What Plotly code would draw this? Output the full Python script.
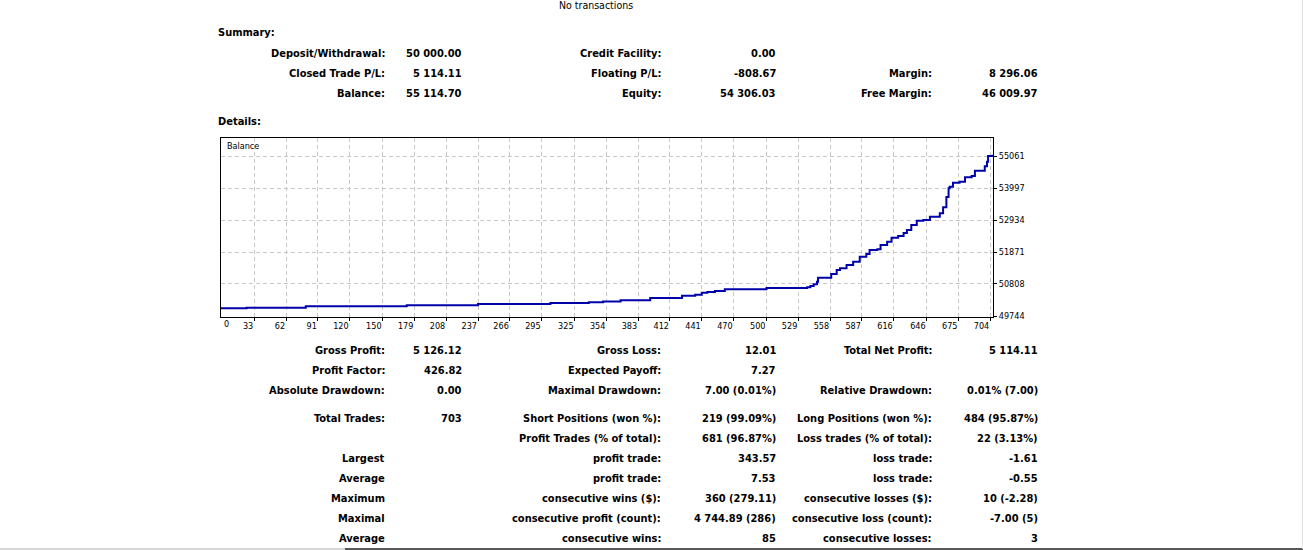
import plotly.graph_objects as go

# ---------------- data ----------------
trade_no = [0, 26, 80, 172, 237, 303, 338, 351, 367, 394, 423, 435, 441, 446, 453, 462,
            500, 537, 540, 543, 546, 547, 559, 564, 567, 573, 579, 585, 591, 594, 601,
            604, 610, 614, 620, 625, 628, 632, 637, 643, 649, 658, 661, 664, 666, 667,
            670, 676, 681, 687, 690, 699, 701, 702, 706]
balance = [50000, 50020, 50065, 50100, 50140, 50175, 50200, 50230, 50265, 50340, 50420,
           50450, 50520, 50540, 50575, 50630, 50675, 50700, 50740, 50800, 50885, 51017,
           51140, 51270, 51330, 51440, 51550, 51715, 51805, 51937, 51960, 52100, 52210,
           52345, 52400, 52500, 52600, 52768, 52910, 52934, 53044, 53155, 53355, 53700,
           53987, 54041, 54174, 54207, 54353, 54396, 54572, 54720, 54871, 55061, 55100]

x_tick_vals = [33, 62, 91, 120, 150, 179, 208, 237, 266, 295, 325, 354, 383, 412, 441,
               470, 500, 529, 558, 587, 616, 646, 675, 704]
y_tick_vals = [49744, 50808, 51871, 52934, 53997, 55061]

header_text = "No transactions"

sum_labels_1 = ["Deposit/Withdrawal:", "Closed Trade P/L:", "Balance:"]
sum_values_1 = ["50 000.00", "5 114.11", "55 114.70"]
sum_labels_2 = ["Credit Facility:", "Floating P/L:", "Equity:"]
sum_values_2 = ["0.00", "-808.67", "54 306.03"]
sum_labels_3 = ["", "Margin:", "Free Margin:"]
sum_values_3 = ["", "8 296.06", "46 009.97"]

st_labels_1 = ["Gross Profit:", "Profit Factor:", "Absolute Drawdown:", "Total Trades:", "",
               "Largest", "Average", "Maximum", "Maximal", "Average"]
st_values_1 = ["5 126.12", "426.82", "0.00", "703", "", "", "", "", "", ""]
st_labels_2 = ["Gross Loss:", "Expected Payoff:", "Maximal Drawdown:", "Short Positions (won %):",
               "Profit Trades (% of total):", "profit trade:", "profit trade:",
               "consecutive wins ($):", "consecutive profit (count):", "consecutive wins:"]
st_values_2 = ["12.01", "7.27", "7.00 (0.01%)", "219 (99.09%)", "681 (96.87%)", "343.57",
               "7.53", "360 (279.11)", "4 744.89 (286)", "85"]
st_labels_3 = ["Total Net Profit:", "", "Relative Drawdown:", "Long Positions (won %):",
               "Loss trades (% of total):", "loss trade:", "loss trade:",
               "consecutive losses ($):", "consecutive loss (count):", "consecutive losses:"]
st_values_3 = ["5 114.11", "", "0.01% (7.00)", "484 (95.87%)", "22 (3.13%)", "-1.61", "-0.55",
               "10 (-2.28)", "-7.00 (5)", "3"]

# ---------------- layout helpers ----------------
FIG_W, FIG_H = 1303, 550
L, R, T, B = 221, 993, 138, 317
W, H = R - L, B - T
FONT = "DejaVu Sans Condensed, DejaVu Sans, sans-serif"


def px(x):
    return (x - L) / W


def py(y):
    return (B - y) / H


annotations = []


def txt(x, y, s, anchor="right", bold=True, size=11):
    if not s:
        return
    annotations.append(dict(
        x=px(x), y=py(y), xref="paper", yref="paper", text=("<b>%s</b>" % s) if bold else s,
        showarrow=False, xanchor=anchor, yanchor="middle", borderpad=0,
        font=dict(family=FONT, size=size, color="#000000")))


txt(596, 5, header_text, anchor="center", bold=False, size=10.5)
txt(217, 33, "Summary:", anchor="left")
txt(217, 121, "Details:", anchor="left")

C1L, C1V, C2L, C2V, C3L, C3V = 386, 463, 662, 777, 933, 1039

sum_rows_y = [53, 73, 93]
for i, yy in enumerate(sum_rows_y):
    txt(C1L, yy, sum_labels_1[i]); txt(C1V, yy, sum_values_1[i])
    txt(C2L, yy, sum_labels_2[i]); txt(C2V, yy, sum_values_2[i])
    txt(C3L, yy, sum_labels_3[i]); txt(C3V, yy, sum_values_3[i])

st_rows_y = [350, 370, 390, 418, 438, 458, 478, 498, 518, 538]
for i, yy in enumerate(st_rows_y):
    txt(C1L, yy, st_labels_1[i]); txt(C1V, yy, st_values_1[i])
    txt(C2L, yy, st_labels_2[i]); txt(C2V, yy, st_values_2[i])
    txt(C3L, yy, st_labels_3[i]); txt(C3V, yy, st_values_3[i])

# chart captions
txt(226, 146, "Balance", anchor="left", bold=False, size=9)
txt(223, 324, "0", anchor="left", bold=False, size=9)

fig = go.Figure()
fig.add_trace(go.Scatter(x=trade_no, y=balance, mode="lines", line_shape="hv",
                         line=dict(color="#0000AA", width=2), hoverinfo="skip",
                         showlegend=False))

grid = dict(showgrid=True, gridcolor="#C8C8C8", gridwidth=1, griddash="4px,3px",
            showline=True, linecolor="#000000", linewidth=1, mirror=True,
            zeroline=False, ticks="outside", ticklen=3, tickcolor="#000000",
            tickfont=dict(family=FONT, size=9, color="#000000"))

fig.update_layout(
    width=FIG_W, height=FIG_H,
    margin=dict(l=L, r=FIG_W - R, t=T, b=FIG_H - B, pad=0),
    paper_bgcolor="#FFFFFF", plot_bgcolor="#FFFFFF",
    xaxis=dict(range=[2.7, 706.5], tickvals=x_tick_vals, ticktext=[str(v) for v in x_tick_vals],
               ticklabelposition="outside left", **grid),
    yaxis=dict(range=[49711, 55659], side="right", tickvals=y_tick_vals,
               ticktext=[str(v) for v in y_tick_vals], **grid),
    annotations=annotations,
    shapes=[
        dict(type="line", xref="paper", yref="paper", x0=px(0), x1=px(345), y0=py(549), y1=py(549),
             line=dict(color="#C8C8C8", width=1.5)),
        dict(type="line", xref="paper", yref="paper", x0=px(345), x1=px(1303), y0=py(549), y1=py(549),
             line=dict(color="#202020", width=1.5)),
        dict(type="line", xref="paper", yref="paper", x0=px(1302.5), x1=px(1302.5), y0=py(0), y1=py(549),
             line=dict(color="#E0E0E0", width=1)),
    ],
)

fig.write_html("out.html", config={"displayModeBar": False},
               post_script="document.body.style.margin='0';document.body.style.overflow='hidden';")
